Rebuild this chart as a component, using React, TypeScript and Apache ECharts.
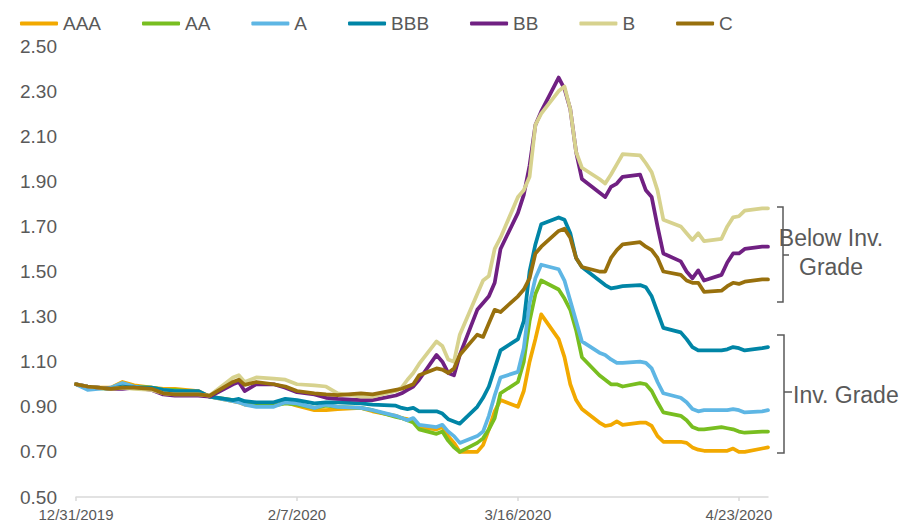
import React, { useEffect, useRef } from "react";
import * as echarts from "echarts";

// ---- DATA ----
const tickLabels = ["12/31/2019", "2/7/2020", "3/16/2020", "4/23/2020"];
const seriesNames = ["AAA", "AA", "A", "BBB", "BB", "B", "C"];
const seriesColors = ["#F2A900", "#78BE20", "#5EB6E4", "#0085A6", "#702082", "#D7D28E", "#98700D"];

const sampleDates = [
  "12/31/2019", "1/2/2020", "1/6/2020", "1/8/2020", "1/10/2020", "1/13/2020", "1/15/2020", "1/17/2020",
  "1/21/2020", "1/23/2020", "1/27/2020", "1/28/2020", "1/29/2020", "1/31/2020", "2/3/2020", "2/5/2020",
  "2/7/2020", "2/10/2020", "2/12/2020", "2/14/2020", "2/18/2020", "2/20/2020", "2/24/2020", "2/25/2020",
  "2/26/2020", "2/27/2020", "2/28/2020", "3/2/2020", "3/3/2020", "3/4/2020", "3/5/2020", "3/6/2020",
  "3/9/2020", "3/10/2020", "3/11/2020", "3/12/2020", "3/13/2020", "3/16/2020", "3/17/2020", "3/18/2020",
  "3/19/2020", "3/20/2020", "3/23/2020", "3/24/2020", "3/25/2020", "3/26/2020", "3/27/2020", "3/30/2020",
  "3/31/2020", "4/1/2020", "4/2/2020", "4/3/2020", "4/6/2020", "4/7/2020", "4/8/2020", "4/9/2020",
  "4/10/2020", "4/13/2020", "4/14/2020", "4/15/2020", "4/16/2020", "4/17/2020", "4/20/2020", "4/21/2020",
  "4/22/2020", "4/23/2020", "4/24/2020", "4/27/2020", "4/28/2020",
];

const AAA = [
  1.0, 0.985, 0.985, 1.01, 0.995, 0.985, 0.98, 0.98, 0.97, 0.945, 0.925, 0.92, 0.91, 0.905, 0.905, 0.92,
  0.905, 0.885, 0.885, 0.89, 0.895, 0.88, 0.86, 0.85, 0.845, 0.835, 0.81, 0.8, 0.81, 0.77, 0.74, 0.7,
  0.7, 0.73, 0.8, 0.88, 0.93, 0.9, 0.97, 1.1, 1.2, 1.31, 1.2, 1.12, 1.0, 0.93, 0.89, 0.83,
  0.815, 0.82, 0.835, 0.82, 0.83, 0.83, 0.815, 0.77, 0.745, 0.745, 0.74, 0.72, 0.71, 0.705, 0.705, 0.705,
  0.715, 0.7, 0.7, 0.715, 0.72,
];
const AA = [
  1.0, 0.985, 0.98, 1.0, 0.99, 0.985, 0.975, 0.975, 0.965, 0.945, 0.93, 0.925, 0.915, 0.905, 0.905, 0.915,
  0.91, 0.895, 0.905, 0.9, 0.895, 0.885, 0.855, 0.85, 0.84, 0.83, 0.8, 0.78, 0.79, 0.75, 0.72, 0.7,
  0.74, 0.76, 0.8, 0.85, 0.96, 1.01, 1.1, 1.28, 1.4, 1.46, 1.42, 1.38, 1.33, 1.24, 1.12, 1.04,
  1.02, 1.0, 1.0, 0.99, 1.005, 1.0, 0.97, 0.92, 0.875, 0.86, 0.84, 0.81, 0.8, 0.8, 0.81, 0.805,
  0.8, 0.79, 0.785, 0.79, 0.79,
];
const A = [
  1.0, 0.975, 0.985, 1.005, 0.99, 0.98, 0.975, 0.97, 0.965, 0.945, 0.925, 0.92, 0.91, 0.9, 0.9, 0.92,
  0.915, 0.895, 0.91, 0.9, 0.895, 0.885, 0.86, 0.85, 0.84, 0.85, 0.82, 0.81, 0.82, 0.79, 0.77, 0.74,
  0.77, 0.79, 0.86, 0.95, 1.03, 1.055, 1.16, 1.36, 1.47, 1.53, 1.51, 1.46, 1.37, 1.28, 1.19, 1.14,
  1.13, 1.11, 1.095, 1.095, 1.1, 1.095, 1.07, 1.01, 0.96, 0.94, 0.92, 0.89, 0.88, 0.885, 0.885, 0.885,
  0.89, 0.885, 0.875, 0.88, 0.885,
];
const BBB = [
  1.0, 0.99, 0.98, 0.99, 0.985, 0.985, 0.975, 0.97, 0.97, 0.945, 0.93, 0.935, 0.925, 0.92, 0.92, 0.935,
  0.93, 0.915, 0.92, 0.92, 0.915, 0.91, 0.905, 0.895, 0.89, 0.895, 0.88, 0.88, 0.87, 0.845, 0.835, 0.825,
  0.9, 0.94, 0.99, 1.07, 1.15, 1.2, 1.28, 1.5, 1.62, 1.71, 1.74, 1.73, 1.67, 1.56, 1.52, 1.46,
  1.44, 1.425, 1.43, 1.435, 1.44, 1.43, 1.39, 1.32, 1.25, 1.23, 1.2, 1.165, 1.15, 1.15, 1.15, 1.155,
  1.165, 1.16, 1.15, 1.16, 1.165,
];
const BB = [
  1.0, 0.99, 0.98, 0.98, 0.985, 0.975, 0.955, 0.95, 0.95, 0.945, 1.0, 1.01, 0.97, 1.0, 1.0, 0.985,
  0.965, 0.955, 0.94, 0.935, 0.93, 0.93, 0.95, 0.96, 0.975, 0.99, 1.02, 1.13, 1.1, 1.05, 1.04, 1.13,
  1.33, 1.36, 1.39, 1.45, 1.6, 1.76, 1.84, 1.97, 2.15, 2.21, 2.36, 2.31, 2.22, 2.03, 1.91, 1.85,
  1.83, 1.875, 1.89, 1.92, 1.93, 1.86, 1.83, 1.7, 1.58, 1.545, 1.5, 1.47, 1.505, 1.46, 1.485, 1.54,
  1.58, 1.58, 1.6, 1.61, 1.61,
];
const B = [
  1.0, 0.99, 0.98, 0.985, 0.98, 0.975, 0.96, 0.955, 0.955, 0.95, 1.03, 1.04, 1.01, 1.03, 1.025, 1.02,
  1.0, 0.995, 0.99, 0.96, 0.945, 0.945, 0.97, 0.985, 1.02, 1.05, 1.09, 1.19, 1.17, 1.11, 1.1, 1.22,
  1.4, 1.46, 1.48, 1.6, 1.65, 1.83, 1.86, 1.92, 2.15, 2.2, 2.3, 2.32, 2.22, 2.03, 1.96, 1.91,
  1.89, 1.93, 1.975, 2.02, 2.015, 1.98, 1.94, 1.86, 1.73, 1.7, 1.67, 1.64, 1.67, 1.635, 1.645, 1.7,
  1.74, 1.745, 1.77, 1.78, 1.78,
];
const C = [
  1.0, 0.99, 0.98, 0.985, 0.985, 0.98, 0.96, 0.955, 0.955, 0.95, 1.01, 1.02, 0.997, 1.01, 1.0, 0.99,
  0.97, 0.96, 0.955, 0.952, 0.96, 0.955, 0.975, 0.98, 0.99, 1.0, 1.04, 1.07, 1.065, 1.05, 1.07, 1.13,
  1.22, 1.21, 1.27, 1.33, 1.32, 1.39, 1.42, 1.47, 1.58, 1.61, 1.68, 1.69, 1.65, 1.56, 1.52, 1.5,
  1.5, 1.56, 1.595, 1.62, 1.63, 1.61, 1.595, 1.56, 1.5, 1.485, 1.46, 1.45, 1.45, 1.41, 1.415, 1.435,
  1.45, 1.445, 1.455, 1.465, 1.465,
];
const seriesValues = [AAA, AA, A, BBB, BB, B, C];

// calendar days spanned by the date axis
const START = new Date(2019, 11, 31);
const DAY_COUNT = 120;

function fmt(d: Date) {
  return `${d.getMonth() + 1}/${d.getDate()}/${d.getFullYear()}`;
}

export default function App() {
  const ref = useRef<HTMLDivElement>(null);

  useEffect(() => {
    if (!ref.current) return;
    const chart = echarts.init(ref.current, undefined, { renderer: "svg" });

    const categories: string[] = [];
    for (let i = 0; i < DAY_COUNT; i++) {
      categories.push(fmt(new Date(START.getFullYear(), START.getMonth(), START.getDate() + i)));
    }
    const idxOf: Record<string, number> = {};
    categories.forEach((c, i) => (idxOf[c] = i));
    const tickSet = new Set(tickLabels);
    const showTick = (i: number) => tickSet.has(categories[i]);

    const font = "'Liberation Sans', Arial, sans-serif";
    const grey = "#595959";

    const series = seriesNames.map((name, s) => {
      const arr: (number | null)[] = new Array(DAY_COUNT).fill(null);
      sampleDates.forEach((d, i) => {
        arr[idxOf[d]] = seriesValues[s][i];
      });
      return {
        name,
        type: "line",
        data: arr,
        connectNulls: true,
        showSymbol: false,
        symbol: "none",
        lineStyle: { color: seriesColors[s], width: 3.75, cap: "round", join: "round" },
        itemStyle: { color: seriesColors[s] },
        emphasis: { disabled: true },
      };
    });

    const bracketStyle = { stroke: grey, lineWidth: 1.5, fill: "none" };
    const textStyle = (extra: any) => ({
      fill: grey,
      font: `23px ${font}`,
      verticalAlign: "middle",
      ...extra,
    });

    chart.setOption({
      animation: false,
      color: seriesColors,
      textStyle: { fontFamily: font },
      grid: { left: 76, right: 147, top: 46, bottom: 29, containLabel: false },
      legend: {
        left: 15,
        top: 9,
        icon: "roundRect",
        itemWidth: 38,
        itemHeight: 4,
        itemGap: 41,
        textStyle: { fontSize: 19, color: grey, fontFamily: font },
        data: seriesNames,
      },
      xAxis: {
        type: "category",
        data: categories,
        boundaryGap: false,
        axisLine: { show: true, lineStyle: { color: "#D9D9D9", width: 1.5 } },
        axisTick: { show: true, length: 4, interval: (i: number) => showTick(i), lineStyle: { color: "#D9D9D9", width: 1.5 } },
        axisLabel: {
          interval: (i: number) => showTick(i),
          color: grey,
          fontSize: 15,
          fontFamily: font,
          margin: 10,
        },
        splitLine: { show: false },
      },
      yAxis: {
        type: "value",
        min: 0.5,
        max: 2.5,
        interval: 0.1,
        axisLine: { show: false },
        axisTick: { show: false },
        splitLine: { show: false },
        axisLabel: {
          color: grey,
          fontSize: 19,
          fontFamily: font,
          margin: 19,
          formatter: (v: number) => (Math.round(v * 10) % 2 === 1 ? v.toFixed(2) : ""),
        },
      },
      series,
      graphic: [
        { type: "polyline", shape: { points: [[777, 207], [783, 207], [783, 302], [777, 302]] }, style: bracketStyle, silent: true },
        { type: "line", shape: { x1: 783, y1: 255, x2: 789, y2: 255 }, style: bracketStyle, silent: true },
        { type: "polyline", shape: { points: [[777, 335], [784, 335], [784, 453], [777, 453]] }, style: bracketStyle, silent: true },
        { type: "line", shape: { x1: 784, y1: 392, x2: 792, y2: 392 }, style: bracketStyle, silent: true },
        { type: "text", x: 831, y: 238, style: textStyle({ text: "Below Inv.", align: "center" }), silent: true },
        { type: "text", x: 831, y: 267, style: textStyle({ text: "Grade", align: "center" }), silent: true },
        { type: "text", x: 793, y: 395, style: textStyle({ text: "Inv. Grade", align: "left" }), silent: true },
      ],
    });

    return () => chart.dispose();
  }, []);

  return (
    <div
      ref={ref}
      style={{ position: "absolute", left: 0, top: 0, width: 915, height: 526, background: "#fff" }}
    />
  );
}
